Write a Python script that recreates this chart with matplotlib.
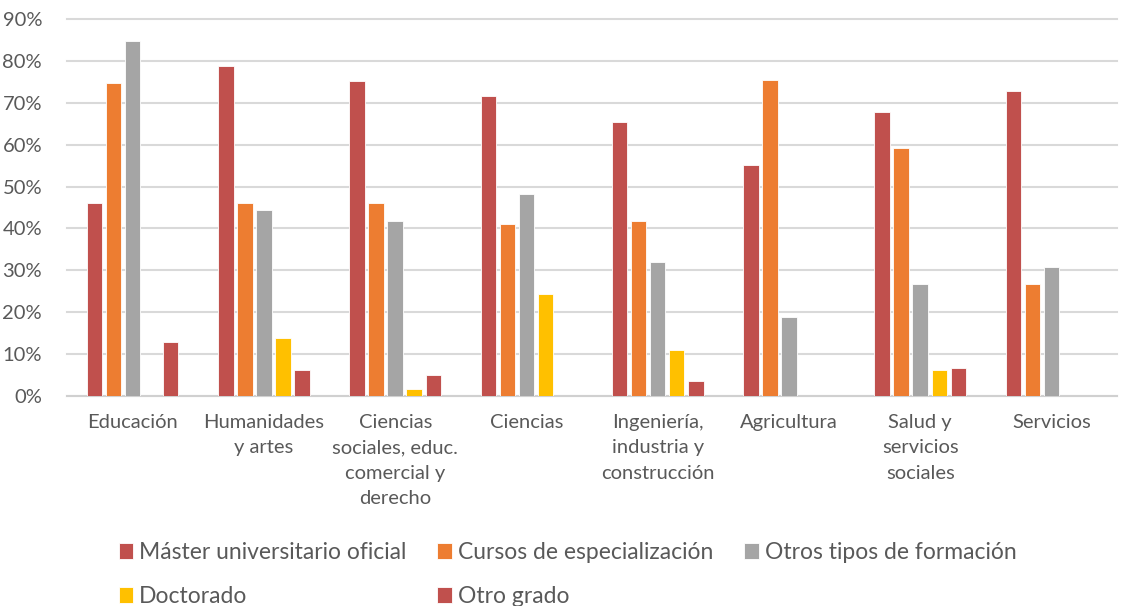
import numpy as np
import matplotlib
matplotlib.use("Agg")
import matplotlib.pyplot as plt

categories = ["Educación", "Humanidades\ny artes", "Ciencias\nsociales, educ.\ncomercial y\nderecho",
              "Ciencias", "Ingeniería,\nindustria y\nconstrucción", "Agricultura",
              "Salud y\nservicios\nsociales", "Servicios"]

master = [46.0, 78.9, 75.3, 71.6, 65.5, 55.1, 67.7, 72.8]
cursos = [74.8, 46.1, 46.0, 41.0, 41.8, 75.4, 59.2, 26.7]
otros = [84.8, 44.3, 41.8, 48.3, 31.9, 18.9, 26.7, 30.8]
doctorado = [None, 13.8, 1.7, 24.4, 11.0, None, 6.1, None]
otro_grado = [12.9, 6.1, 5.1, None, 3.6, None, 6.8, None]

series = [
    ("Máster universitario oficial", master, "#C0504D"),
    ("Cursos de especialización", cursos, "#ED7D31"),
    ("Otros tipos de formación", otros, "#A5A5A5"),
    ("Doctorado", doctorado, "#FFC000"),
    ("Otro grado", otro_grado, "#C0504D"),
]

plt.rcParams['font.family'] = ['Lato', 'DejaVu Sans']
text_color = "#595959"

fig = plt.figure(figsize=(11.25, 6.06), dpi=100)
ax = fig.add_axes([0.0596, 0.3465, 0.9334, 0.6221])

x = np.arange(len(categories))
step = 0.145
width = 0.118
handles = []
for j, (name, vals, color) in enumerate(series):
    vals = np.array([np.nan if v is None else v / 100 for v in vals], dtype=float)
    b = ax.bar(x + (j - 2) * step, vals, width, color=color, edgecolor="white",
               linewidth=0.6, label=name, zorder=3)
    handles.append(b)

ax.set_xlim(-0.5, len(categories) - 0.5)
ax.set_ylim(0, 0.9)
ax.set_yticks(np.arange(0, 0.91, 0.1))
ax.set_yticklabels([f"{int(round(v * 100))}%" for v in np.arange(0, 0.91, 0.1)])
ax.set_xticks(x)
ax.set_xticklabels(categories, linespacing=1.6)
ax.tick_params(axis="both", length=0, colors=text_color)
ax.tick_params(axis="x", pad=13, labelsize=14.5)
ax.tick_params(axis="y", pad=18, labelsize=14.5)
for lbl in ax.get_xticklabels():
    lbl.set_verticalalignment("top")

ax.yaxis.grid(True, color="#d9d9d9", linewidth=1.5, zorder=0)
for gl in ax.get_ygridlines():
    gl.set_clip_on(False)
for s in ["top", "right", "left"]:
    ax.spines[s].set_visible(False)
ax.spines["bottom"].set_color("#d0d0d0")
ax.spines["bottom"].set_linewidth(1.5)

order = [0, 3, 1, 4, 2]
leg = fig.legend([handles[i] for i in order], [series[i][0] for i in order],
                 loc="lower left", bbox_to_anchor=(0.087, -0.035, 0.835, 0.12),
                 ncol=3, frameon=False, fontsize=16.5, handlelength=0.65,
                 handleheight=0.7, handletextpad=0.25, labelspacing=1.0,
                 columnspacing=1.5, mode="expand", labelcolor=text_color)

fig.savefig("out.png", dpi=100)
